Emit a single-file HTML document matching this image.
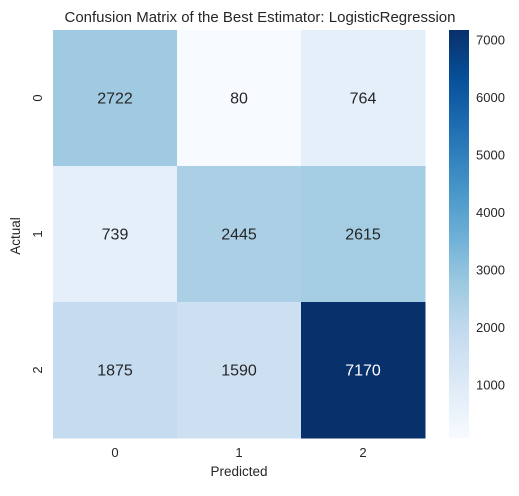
<!DOCTYPE html>
<html><head><meta charset="utf-8"><style>
body{margin:0;background:#fff;font-family:"Liberation Sans",sans-serif;}
</style></head><body>
<svg id="chart" width="519" height="491" xmlns="http://www.w3.org/2000/svg" font-family="Liberation Sans, sans-serif">
<text x="260" y="22" text-anchor="middle" font-size="15" fill="#262626">Confusion Matrix of the Best Estimator: LogisticRegression</text>
<g id="cells"></g>
<g id="xticks"></g>
<g id="yticks"></g>
<text x="239" y="476" text-anchor="middle" font-size="13.5" fill="#262626">Predicted</text>
<text transform="translate(20,236) rotate(-90)" text-anchor="middle" font-size="13.5" fill="#262626">Actual</text>
<defs><linearGradient id="cbgrad" x1="0" y1="1" x2="0" y2="0"></linearGradient></defs>
<rect x="449" y="30" width="20" height="408" fill="url(#cbgrad)"/>
<g id="cbticks"></g>
</svg>
<script>
const xCategories=["0","1","2"];
const yCategories=["0","1","2"];
const row0=[2722,80,764];
const row1=[739,2445,2615];
const row2=[1875,1590,7170];
const colorbarTicks=[1000,2000,3000,4000,5000,6000,7000];

const matrix=[row0,row1,row2];
const all=matrix.flat();
const vmin=Math.min(...all), vmax=Math.max(...all);
const L=53,T=30,W=372,H=408;
const cw=W/xCategories.length, ch=H/yCategories.length;
const stops=["#f7fbff","#deebf7","#c6dbef","#9ecae1","#6baed6","#4292c6","#2171b5","#08519c","#08306b"];
function hex(h){return [1,3,5].map(i=>parseInt(h.substr(i,2),16));}
function cmap(t){t=Math.max(0,Math.min(1,t));const p=t*(stops.length-1);const i=Math.min(Math.floor(p),stops.length-2);const f=p-i;const a=hex(stops[i]),b=hex(stops[i+1]);return `rgb(${a.map((v,k)=>Math.round(v+(b[k]-v)*f)).join(",")})`;}
function norm(v){return (v-vmin)/(vmax-vmin);}
const NS="http://www.w3.org/2000/svg";
function mk(tag,attrs,parent){const e=document.createElementNS(NS,tag);for(const k in attrs)e.setAttribute(k,attrs[k]);parent.appendChild(e);return e;}
const cells=document.getElementById("cells");
matrix.forEach((row,r)=>row.forEach((v,c)=>{
  const t=norm(v);
  const rect=mk("rect",{x:L+c*cw,y:T+r*ch,width:cw+0.5,height:ch+0.5,fill:cmap(t)},cells);
  
  
  const tx=mk("text",{x:L+c*cw+cw/2,y:T+r*ch+ch/2+5.5,"text-anchor":"middle","font-size":"16",fill:t>0.5?"#fff":"#262626"},cells);
  tx.textContent=v;
  
  
}));
const xt=document.getElementById("xticks");
xCategories.forEach((c,i)=>{
  const t=mk("text",{x:L+i*cw+cw/2,y:457,"text-anchor":"middle","font-size":"13",fill:"#262626"},xt);
  t.textContent=c;
  
  
});
const yt=document.getElementById("yticks");
yCategories.forEach((c,i)=>{
  const y=T+i*ch+ch/2;
  const t=mk("text",{transform:`translate(42,${y}) rotate(-90)`,"text-anchor":"middle","font-size":"13",fill:"#262626"},yt);
  t.textContent=c;
  
  
});
const grad=document.getElementById("cbgrad");
stops.forEach((s,i)=>mk("stop",{offset:i/(stops.length-1),"stop-color":s},grad));
const cb=document.getElementById("cbticks");
colorbarTicks.forEach(v=>{
  const y=T+H-norm(v)*H;
  const t=mk("text",{x:476,y:y+4.5,"font-size":"13",fill:"#262626"},cb);
  t.textContent=v;
  
  
});
</script>
</body></html>
